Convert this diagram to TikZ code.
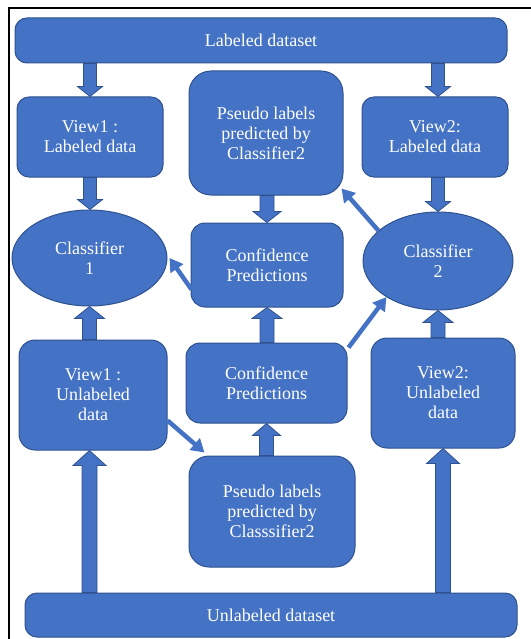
\documentclass[tikz,border=0pt]{standalone}
\usepackage{fontspec}
\setmainfont{Liberation Serif}
\newfontfamily\nodefont{Liberation Serif}
\usetikzlibrary{shapes.geometric,arrows.meta,calc}
\definecolor{boxblue}{HTML}{4472C4}
\definecolor{boxline}{HTML}{2F528F}
\tikzset{
  box/.style={draw=boxline, fill=boxblue, line width=1pt, text=white, align=center,
    inner sep=0pt, rounded corners=12pt, font=\nodefont\fontsize{18}{20}\selectfont},
  bigbox/.style={box, rounded corners=22pt},
  oval/.style={draw=boxline, fill=boxblue, line width=1pt, text=white, align=center,
    inner sep=0pt, ellipse, font=\nodefont\fontsize{18}{20}\selectfont},
  blockarrow/.style={draw=boxline, fill=boxblue, line width=0.8pt, line join=miter},
  thinarrow/.style={draw=boxblue, line width=4.5pt, -{Triangle[width=15pt,length=13pt]}},
}
% from, to, half shaft, half head, head length
\newcommand\blockarr[5]{%
  \path[blockarrow] let \p1=(#1), \p2=(#2), \n1={ifthenelse(\y2>\y1,1,-1)} in
  (\x1-#3,\y1) -- (\x1-#3,\y2-\n1*#5) -- (\x1-#4,\y2-\n1*#5) -- (\x1,\y2)
  -- (\x1+#4,\y2-\n1*#5) -- (\x1+#3,\y2-\n1*#5) -- (\x1+#3,\y1) -- cycle;}
\begin{document}
\begin{tikzpicture}[x=1pt,y=-1pt]
\useasboundingbox (0,0) rectangle (530,639);
\draw[line width=1.6pt] (9,645) -- (9,8) -- (535,8);

\node[box, minimum width=492pt, minimum height=45pt] (lab) at (261,40.5) {Labeled dataset};
\node[box, minimum width=146pt, minimum height=80pt] (v1l) at (90,137) {View1 :\\Labeled data};
\node[bigbox, minimum width=154pt, minimum height=124pt] (pt) at (266,133) {Pseudo labels\\predicted by\\Classifier2};
\node[box, minimum width=146pt, minimum height=80pt] (v2l) at (435,137) {View2:\\Labeled data};
\node[oval, minimum width=155pt, minimum height=96pt] (c1) at (89.5,258) {Classifier\\1};
\node[box, rounded corners=14pt, minimum width=152pt, minimum height=84pt] (cu) at (267,265) {Confidence\\Predictions};
\node[oval, minimum width=150pt, minimum height=98pt] (c2) at (438,261) {Classifier\\2};
\node[box, rounded corners=16pt, minimum width=148pt, minimum height=110pt] (v1u) at (93,395) {View1 :\\Unlabeled\\data};
\node[box, rounded corners=14pt, minimum width=161pt, minimum height=80pt] (cl) at (266.5,383) {Confidence\\Predictions};
\node[box, rounded corners=16pt, minimum width=144pt, minimum height=110pt] (v2u) at (443,393) {View2:\\Unlabeled\\data};
\node[bigbox, rounded corners=20pt, minimum width=166pt, minimum height=111pt] (pb) at (272,511.5) {Pseudo labels\\predicted by\\Classsifier2};
\node[box, minimum width=492pt, minimum height=44pt] (ul) at (271,615) {Unlabeled dataset};

% block arrows
\blockarr{lab.south -| v1l.north}{v1l.north}{6.5pt}{12.5pt}{10pt}
\blockarr{lab.south -| c2.north}{c2.north |- v2l.north}{6.5pt}{12.5pt}{10pt}
\blockarr{v1l.south}{v1l.south |- c1.north}{6.5pt}{12.5pt}{10pt}
\blockarr{c2.north |- v2l.south}{c2.north}{6.5pt}{12.5pt}{10pt}
\blockarr{pt.south -| cu.north}{cu.north}{7pt}{14pt}{11pt}
\blockarr{v1u.north -| c1.south}{c1.south}{7pt}{15pt}{12pt}
\blockarr{cl.north -| cu.south}{cu.south}{7pt}{15pt}{11pt}
\blockarr{v2u.north -| c2.south}{c2.south}{7pt}{15pt}{12pt}
\blockarr{pb.north -| cl.south}{cl.south}{7pt}{14pt}{12pt}
\blockarr{ul.north -| c1.south}{c1.south |- v1u.south}{7.5pt}{16.5pt}{15pt}
\blockarr{ul.north -| v2u.south}{v2u.south}{7.5pt}{16.5pt}{15pt}

% thin arrows
\draw[thinarrow] (c2.153) -- ($(pt.south east)+(-2,-7)$);
\draw[thinarrow] ($(cu.south west)+(1,-18)$) -- ($(c1.east)+(2,0)$);
\draw[thinarrow] ($(v1u.south east)+(0,-30)$) -- ($(pb.north west)+(16,-3)$);
\draw[thinarrow] ($(cl.north east)+(1,5)$) -- (c2.215);
\end{tikzpicture}
\end{document}
